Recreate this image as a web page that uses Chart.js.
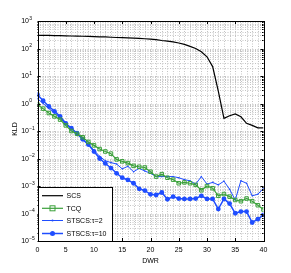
<!DOCTYPE html>
<html>
<head>
<meta charset="utf-8">
<script src="https://cdn.jsdelivr.net/npm/chart.js@4/dist/chart.umd.min.js"></script>
<style>
  html, body { margin: 0; padding: 0; background: #fff; }
  #chart { display: block; }
</style>
</head>
<body>
<canvas id="chart" width="291" height="273"></canvas>
<script>
// DWR values on the x axis
const dwr = [0,1,2,3,4,5,6,7,8,9,10,11,12,13,14,15,16,17,18,19,20,
             21,22,23,24,25,26,27,28,29,30,31,32,33,34,35,36,37,38,39,40];

// KLD
const scs = [302,300,298,295,292,288,285,282,279,275,270,266,263,257,251,248,245,240,234,226,219,
             209,195,186,174,158,141,120,100,76,50,22,2.8,0.29,0.36,0.42,0.33,0.19,0.16,0.13,0.13];
const tcq = [0.91,0.65,0.45,0.34,0.26,0.16,0.10,0.079,0.059,0.040,0.030,0.022,0.018,0.015,0.0093,0.0079,
             0.0068,0.0054,0.0050,0.0047,0.0033,0.0022,0.0027,0.0020,0.0017,0.00126,0.00135,0.00126,0.0011,
             0.0007,0.0010,0.00083,0.00044,0.00051,0.00041,0.00031,0.00028,0.00035,0.00028,0.0002,0.00014];
const stscs2 = [1.5,1.0,0.66,0.45,0.30,0.18,0.12,0.076,0.048,0.032,0.020,0.012,0.0083,0.0071,0.0063,0.0042,
                0.0052,0.0033,0.0044,0.0035,0.0029,0.0022,0.0022,0.0022,0.0022,0.0020,0.0017,0.00155,0.00117,
                0.0022,0.00117,0.00135,0.0011,0.0015,0.00076,0.00031,0.00155,0.00126,0.00044,0.0005,0.00083];
const stscs10 = [2.1,1.26,0.79,0.52,0.34,0.19,0.126,0.083,0.05,0.032,0.018,0.010,0.0066,0.0045,0.0029,0.0020,
                 0.00166,0.00126,0.00079,0.00068,0.0005,0.00047,0.00058,0.00033,0.00041,0.00035,0.00034,0.00034,
                 0.00035,0.00044,0.00034,0.00034,0.000145,0.00034,0.00023,0.000102,0.000117,0.000117,0.000047,
                 0.000062,0.000089];

const xTicks = [0,5,10,15,20,25,30,35,40];
const yExps = [-5,-4,-3,-2,-1,0,1,2,3];
const seriesNames = ['SCS', 'TCQ', 'STSCS:\u03c4=2', 'STSCS:\u03c4=10'];

const GREEN = '#3aa03a';
const BLUE = '#1f4dff';
const FONT = '"Liberation Sans", Arial, sans-serif';

function pts(ys) {
    return dwr.map((x, i) => ({ x: x, y: ys[i] }));
}

// grid, box, ticks and labels in MATLAB style
const axesPlugin = {
    id: 'matlabAxes',
    beforeDatasetsDraw(chart) {
        const { ctx, chartArea: a, scales: { x, y } } = chart;
        ctx.save();
        ctx.strokeStyle = '#c4c4c4';
        ctx.lineWidth = 1;
        ctx.setLineDash([1, 1.5]);
        for (let v = 1; v < 40; v++) {
            const px = Math.round(x.getPixelForValue(v)) + 0.5;
            ctx.beginPath(); ctx.moveTo(px, a.top); ctx.lineTo(px, a.bottom); ctx.stroke();
        }
        for (let e = -5; e < 3; e++) {
            for (let m = 1; m <= 9; m++) {
                if (e === -5 && m === 1) continue;
                const py = Math.round(y.getPixelForValue(m * Math.pow(10, e))) + 0.5;
                ctx.beginPath(); ctx.moveTo(a.left, py); ctx.lineTo(a.right, py); ctx.stroke();
            }
        }
        ctx.restore();
    },
    afterDatasetsDraw(chart) {
        const { ctx, chartArea: a, scales: { x, y } } = chart;
        ctx.save();
        ctx.strokeStyle = '#000';
        ctx.lineWidth = 1;
        ctx.setLineDash([]);
        ctx.strokeRect(Math.round(a.left) + 0.5, Math.round(a.top) + 0.5,
                       Math.round(a.right - a.left), Math.round(a.bottom - a.top));

        // ticks
        ctx.beginPath();
        xTicks.forEach(v => {
            const px = Math.round(x.getPixelForValue(v)) + 0.5;
            ctx.moveTo(px, a.bottom); ctx.lineTo(px, a.bottom - 3);
            ctx.moveTo(px, a.top); ctx.lineTo(px, a.top + 3);
        });
        for (let e = -5; e <= 3; e++) {
            for (let m = 1; m <= 9; m++) {
                if (e === 3 && m > 1) break;
                const py = Math.round(y.getPixelForValue(m * Math.pow(10, e))) + 0.5;
                const len = m === 1 ? 3 : 1.5;
                ctx.moveTo(a.left, py); ctx.lineTo(a.left + len, py);
                ctx.moveTo(a.right, py); ctx.lineTo(a.right - len, py);
            }
        }
        ctx.stroke();

        // tick labels
        ctx.fillStyle = '#000';
        ctx.font = '7px ' + FONT;
        ctx.textAlign = 'center';
        ctx.textBaseline = 'middle';
        xTicks.forEach(v => ctx.fillText(String(v), x.getPixelForValue(v), a.bottom + 9.5));

        yExps.forEach(e => {
            const py = y.getPixelForValue(Math.pow(10, e));
            ctx.font = '7px ' + FONT;
            ctx.textAlign = 'right';
            ctx.fillText('10', a.left - 8.5, py + 0.5);
            ctx.font = '5px ' + FONT;
            ctx.textAlign = 'left';
            ctx.fillText(String(e).replace('-', '\u2212'), a.left - 8.3, py - 2.5);
        });

        // axis titles
        ctx.font = '7px ' + FONT;
        ctx.textAlign = 'center';
        ctx.fillText('DWR', (a.left + a.right) / 2, a.bottom + 20);
        ctx.save();
        ctx.translate(15, 129);
        ctx.rotate(-Math.PI / 2);
        ctx.fillText('KLD', 0, 0);
        ctx.restore();

        // legend
        const lx = Math.round(a.left) + 0.5, ly = 187.5, lw = 74, lh = Math.round(a.bottom) - 187;
        ctx.fillStyle = '#fff';
        ctx.fillRect(lx, ly, lw, lh);
        ctx.strokeStyle = '#000';
        ctx.strokeRect(lx, ly, lw, lh);
        const rows = [195.7, 208.3, 220.5, 233.5];
        chart.data.datasets.forEach((ds, i) => {
            const ry = rows[i];
            ctx.strokeStyle = ds.borderColor;
            ctx.lineWidth = ds.borderWidth;
            ctx.beginPath(); ctx.moveTo(42, ry); ctx.lineTo(63, ry); ctx.stroke();
            ctx.lineWidth = 1;
            if (i === 1) {
                ctx.strokeStyle = GREEN;
                ctx.strokeRect(50, ry - 2.5, 5, 5);
            } else if (i === 2) {
                ctx.fillStyle = BLUE;
                ctx.beginPath(); ctx.arc(52.5, ry, 1, 0, Math.PI * 2); ctx.fill();
            } else if (i === 3) {
                ctx.fillStyle = BLUE;
                ctx.beginPath(); ctx.arc(52.5, ry, 2.5, 0, Math.PI * 2); ctx.fill();
            }
            ctx.fillStyle = '#000';
            ctx.font = '7px ' + FONT;
            ctx.textAlign = 'left';
            ctx.fillText(seriesNames[i], 66.5, ry + 0.5);
        });
        ctx.restore();
    }
};

new Chart(document.getElementById('chart'), {
    type: 'line',
    data: {
        datasets: [
            { label: seriesNames[0], data: pts(scs), borderColor: '#000', borderWidth: 1.2,
              pointRadius: 0, tension: 0 },
            { label: seriesNames[1], data: pts(tcq), borderColor: GREEN, borderWidth: 1.2,
              pointStyle: 'rect', pointRadius: 2.5, pointBorderWidth: 1,
              pointBackgroundColor: 'rgba(0,0,0,0)', pointBorderColor: GREEN, tension: 0 },
            { label: seriesNames[2], data: pts(stscs2), borderColor: BLUE, borderWidth: 1,
              pointRadius: 0.8, pointBackgroundColor: BLUE, pointBorderWidth: 0, tension: 0 },
            { label: seriesNames[3], data: pts(stscs10), borderColor: BLUE, borderWidth: 1.5,
              pointStyle: 'circle', pointRadius: 2.4, pointBackgroundColor: BLUE,
              pointBorderColor: BLUE, pointBorderWidth: 0, tension: 0 }
        ]
    },
    options: {
        responsive: false,
        animation: false,
        layout: { padding: { left: 37.5, right: 27.5, top: 21, bottom: 32 } },
        plugins: { legend: { display: false }, tooltip: { enabled: false } },
        scales: {
            x: { type: 'linear', min: 0, max: 40, display: false },
            y: { type: 'logarithmic', min: 1e-5, max: 1e3, display: false }
        }
    },
    plugins: [axesPlugin]
});
</script>
</body>
</html>
